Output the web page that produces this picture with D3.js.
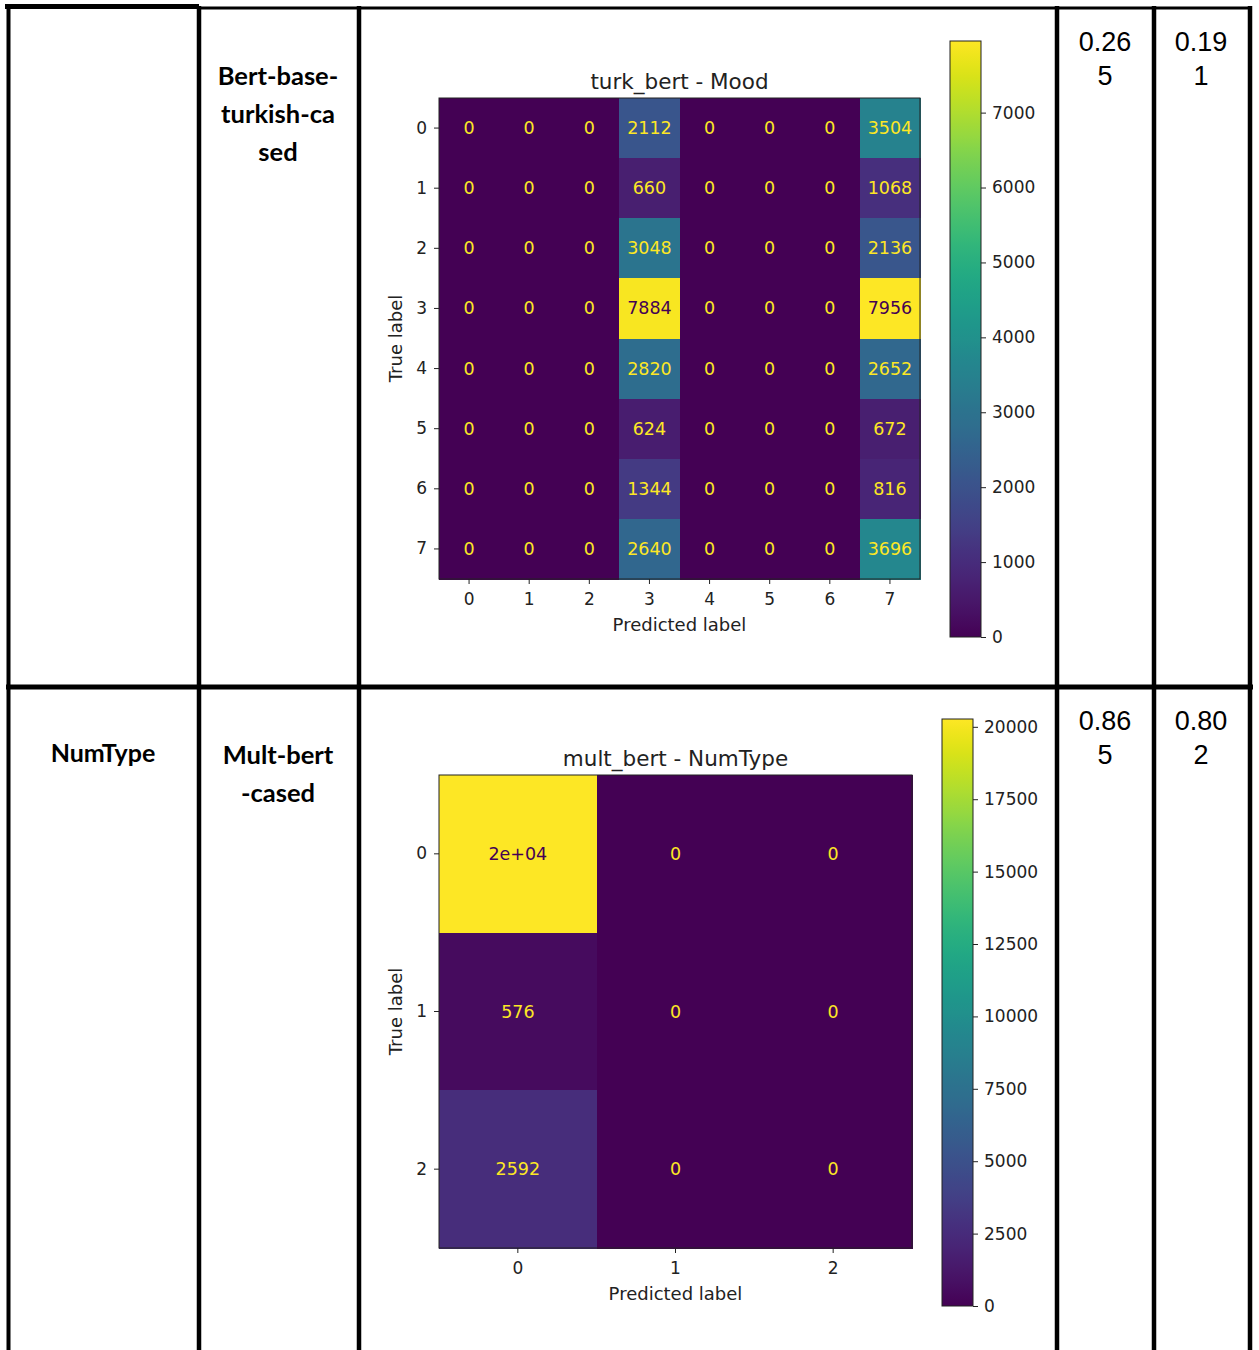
<!DOCTYPE html>
<html><head><meta charset="utf-8">
<script src="https://cdn.jsdelivr.net/npm/d3@7"></script>
<style>body{margin:0;background:#fff}svg{display:block}</style>
</head><body>
<svg id="c" width="1259" height="1350"></svg>
<script>
// ---- data ----
const moodLabels = ["0","1","2","3","4","5","6","7"];
const moodMatrix = [
  [0,0,0,2112,0,0,0,3504],
  [0,0,0,660,0,0,0,1068],
  [0,0,0,3048,0,0,0,2136],
  [0,0,0,7884,0,0,0,7956],
  [0,0,0,2820,0,0,0,2652],
  [0,0,0,624,0,0,0,672],
  [0,0,0,1344,0,0,0,816],
  [0,0,0,2640,0,0,0,3696]
];
const moodCbTicks = [0,1000,2000,3000,4000,5000,6000,7000];
const numLabels = ["0","1","2"];
const numMatrix = [
  [20270,0,0],
  [576,0,0],
  [2592,0,0]
];
const numCbTicks = [0,2500,5000,7500,10000,12500,15000,17500,20000];
const tableFeature = ["", "NumType"];
const tableModel = [["Bert-base-","turkish-ca","sed"],["Mult-bert","-cased"]];
const tableScore1 = [["0.26","5"],["0.86","5"]];
const tableScore2 = [["0.19","1"],["0.80","2"]];

const svg = d3.select("#c");
const FONT = "DejaVu Sans, sans-serif";

function fmtCell(v){
  const d = String(v);
  // mimic python '.2g'
  let g;
  if (v === 0) g = "0";
  else {
    const e = Math.floor(Math.log10(Math.abs(v)));
    if (e < -4 || e >= 2) {
      let s = v.toExponential(1);
      let [m, ex] = s.split("e");
      m = m.replace(/\.0+$/,"").replace(/(\.\d*?)0+$/,"$1");
      const sign = ex[0] === "-" ? "-" : "+";
      let digits = ex.replace(/[+-]/,"");
      if (digits.length < 2) digits = "0" + digits;
      g = m + "e" + sign + digits;
    } else g = String(+v.toPrecision(2));
  }
  return d.length < g.length ? d : g;
}

function drawCM(opt){
  const {matrix, labels, x0, y0, size, title, cb, cbTicks} = opt;
  const g = svg.append("g");
  const flat = matrix.flat();
  const vmax = d3.max(flat), vmin = d3.min(flat);
  const color = d3.scaleSequential(d3.interpolateViridis).domain([vmin, vmax]);
  const xs = d3.scaleBand().domain(labels).range([x0, x0+size]);
  const ys = d3.scaleBand().domain(labels).range([y0, y0+size]);
  const thresh = (vmax + vmin)/2;
  const cells = [];
  matrix.forEach((row,i)=>row.forEach((v,j)=>cells.push({i,j,v})));
  g.selectAll("rect.cell").data(cells).join("rect")
    .attr("x", d=>xs(labels[d.j])).attr("y", d=>ys(labels[d.i]))
    .attr("width", xs.bandwidth()+1).attr("height", ys.bandwidth()+1)
    .attr("shape-rendering","crispEdges")
    .attr("fill", d=>color(d.v));
  g.selectAll("text.val").data(cells).join("text")
    .attr("x", d=>xs(labels[d.j])+xs.bandwidth()/2)
    .attr("y", d=>ys(labels[d.i])+ys.bandwidth()/2)
    .attr("text-anchor","middle").attr("dominant-baseline","central")
    .attr("font-family",FONT).attr("font-size",17.5)
    .attr("fill", d=> d.v < thresh ? d3.interpolateViridis(1) : d3.interpolateViridis(0))
    .text(d=>fmtCell(d.v));
  g.append("rect").attr("x",x0).attr("y",y0).attr("width",size).attr("height",size)
    .attr("fill","none").attr("stroke","#222").attr("stroke-width",1);
  const ax = g.append("g").attr("transform",`translate(0,${y0+size})`)
    .call(d3.axisBottom(xs).tickSize(5).tickPadding(9));
  const ay = g.append("g").attr("transform",`translate(${x0},0)`)
    .call(d3.axisLeft(ys).tickSize(5).tickPadding(7));
  [ax,ay].forEach(a=>{
    a.select(".domain").remove();
    a.attr("font-size",17).attr("font-family",FONT);
    a.selectAll("text").attr("font-family",FONT).attr("font-size",17).attr("fill","#222");
    a.selectAll("line").attr("stroke","#222");
  });
  g.append("text").attr("x",x0+size/2).attr("y",y0-9).attr("text-anchor","middle")
    .attr("font-family",FONT).attr("font-size",21.5).attr("fill","#222").text(title);
  g.append("text").attr("x",x0+size/2).attr("y",y0+size+52).attr("text-anchor","middle")
    .attr("font-family",FONT).attr("font-size",18).attr("fill","#222").text("Predicted label");
  g.append("text").attr("transform",`translate(${x0-37},${y0+size/2}) rotate(-90)`)
    .attr("text-anchor","middle").attr("font-family",FONT).attr("font-size",18).attr("fill","#222")
    .text("True label");
  // colorbar
  const gid = "grad"+Math.round(x0+y0);
  const grad = svg.append("defs").append("linearGradient").attr("id",gid)
    .attr("x1","0").attr("y1","1").attr("x2","0").attr("y2","0");
  d3.range(0,1.0001,0.02).forEach(t=>grad.append("stop").attr("offset",t).attr("stop-color",d3.interpolateViridis(t)));
  const cs = d3.scaleLinear().domain([vmin, vmax]).range([cb.y1, cb.y0]);
  g.append("rect").attr("x",cb.x).attr("y",cb.y0).attr("width",cb.w).attr("height",cb.y1-cb.y0)
    .attr("fill",`url(#${gid})`).attr("stroke","#222").attr("stroke-width",1);
  const ca = g.append("g").attr("transform",`translate(${cb.x+cb.w},0)`)
    .call(d3.axisRight(cs).tickValues(cbTicks).tickSize(5).tickPadding(6).tickFormat(d3.format("d")));
  ca.select(".domain").remove();
  ca.attr("font-size",17).attr("font-family",FONT);
  ca.selectAll("text").attr("font-family",FONT).attr("font-size",17).attr("fill","#222");
  ca.selectAll("line").attr("stroke","#222");
}

drawCM({matrix:moodMatrix, labels:moodLabels, x0:439, y0:98, size:481,
  title:"turk_bert - Mood", cb:{x:950,w:31,y0:41,y1:637}, cbTicks:moodCbTicks});
drawCM({matrix:numMatrix, labels:numLabels, x0:439, y0:775, size:473,
  title:"mult_bert - NumType", cb:{x:942,w:31,y0:719,y1:1306}, cbTicks:numCbTicks});

// ---- table ----
const T = svg.append("g");
function line(x1,y1,x2,y2,w){T.append("line").attr("x1",x1).attr("y1",y1).attr("x2",x2).attr("y2",y2).attr("stroke","#000").attr("stroke-width",w);}
line(5,6.5,199,6.5,5);
line(199,8,1251,8,3);
line(8.5,4,8.5,1350,4);
[199,359,1057,1154,1250].forEach(x=>line(x,6,x,1350,4.5));
line(6,687,1253,687,5);

const rowTop = [8, 687];
const BF = "Lato, 'Open Sans', sans-serif";
tableFeature.forEach((t,r)=>{
  T.append("text").attr("x",103).attr("y",rowTop[r]+75).attr("text-anchor","middle")
    .attr("font-family",BF).attr("font-weight","bold").attr("font-size",25).text(t);
});
tableModel.forEach((lines,r)=>{
  lines.forEach((t,k)=>T.append("text").attr("x",278).attr("y",rowTop[r]+77+k*38)
    .attr("text-anchor","middle").attr("font-family",BF).attr("font-weight","bold").attr("font-size",25.5).text(t));
});
[[tableScore1,1105],[tableScore2,1201]].forEach(([arr,x])=>{
  arr.forEach((lines,r)=>lines.forEach((t,k)=>T.append("text").attr("x",x).attr("y",rowTop[r]+43+k*34)
    .attr("text-anchor","middle").attr("font-family","Liberation Sans, Arial, sans-serif").attr("font-size",27).text(t)));
});
</script>
</body></html>
